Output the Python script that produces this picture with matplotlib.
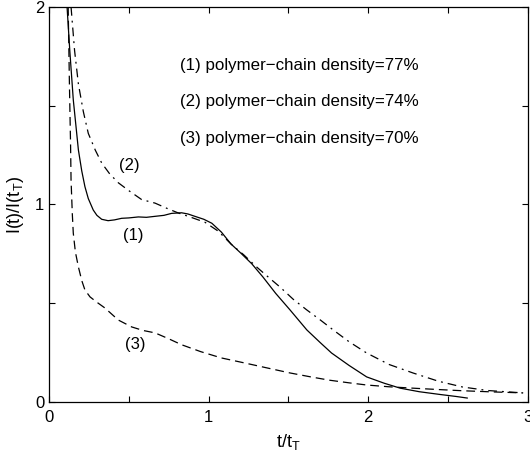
import matplotlib
matplotlib.use("Agg")
import matplotlib.pyplot as plt
from matplotlib.ticker import MultipleLocator

plt.rcParams['font.family'] = ['Liberation Sans', 'DejaVu Sans']

# curve (1): polymer-chain density 77%
t1 = [0.113, 0.13, 0.152, 0.184, 0.205, 0.225, 0.246, 0.277, 0.30, 0.33, 0.37,
      0.41, 0.455, 0.50, 0.56, 0.61, 0.664, 0.72, 0.768, 0.83, 0.87, 0.914,
      0.97, 1.02, 1.08, 1.14, 1.20, 1.27, 1.34, 1.42, 1.51, 1.615, 1.70, 1.77,
      1.88, 1.99, 2.1, 2.2, 2.32, 2.45, 2.55, 2.62]
i1 = [2.0, 1.78, 1.53, 1.276, 1.17, 1.09, 1.03, 0.972, 0.945, 0.925, 0.918,
      0.922, 0.93, 0.932, 0.937, 0.935, 0.94, 0.945, 0.955, 0.958, 0.952, 0.94,
      0.925, 0.905, 0.86, 0.80, 0.755, 0.70, 0.633, 0.55, 0.466, 0.365, 0.30,
      0.248, 0.185, 0.127, 0.095, 0.07, 0.052, 0.038, 0.028, 0.02]

# curve (2): polymer-chain density 74%
t2 = [0.138, 0.16, 0.184, 0.215, 0.246, 0.29, 0.33, 0.38, 0.434, 0.50, 0.58,
      0.664, 0.74, 0.81, 0.89, 0.977, 1.06, 1.14, 1.22, 1.30, 1.37, 1.45,
      1.53, 1.615, 1.70, 1.78, 1.88, 1.99, 2.13, 2.28, 2.44, 2.59, 2.75, 2.97]
i2 = [2.0, 1.78, 1.61, 1.47, 1.36, 1.275, 1.21, 1.155, 1.11, 1.07, 1.025,
      1.007, 0.98, 0.957, 0.935, 0.91, 0.865, 0.80, 0.745, 0.684, 0.635, 0.58,
      0.52, 0.466, 0.415, 0.365, 0.305, 0.248, 0.19, 0.147, 0.105, 0.076, 0.058,
      0.046]

# curve (3): polymer-chain density 70%
t3 = [0.12, 0.128, 0.135, 0.138, 0.146, 0.152, 0.165, 0.184, 0.205, 0.225,
      0.257, 0.30, 0.35, 0.434, 0.518, 0.59, 0.664, 0.75, 0.83, 0.95, 1.08,
      1.24, 1.38, 1.51, 1.64, 1.76, 1.88, 1.99, 2.13, 2.28, 2.44, 2.59, 2.78,
      2.97]
i3 = [2.0, 1.6, 1.3, 1.124, 0.95, 0.855, 0.76, 0.684, 0.615, 0.567,
      0.532, 0.505, 0.476, 0.415, 0.38, 0.362, 0.35, 0.32, 0.29, 0.255, 0.223,
      0.195, 0.17, 0.147, 0.127, 0.11, 0.097, 0.086, 0.077, 0.07, 0.063, 0.057,
      0.051, 0.046]

legend_lines = ["(1) polymer\u2212chain density=77%",
                "(2) polymer\u2212chain density=74%",
                "(3) polymer\u2212chain density=70%"]

fig = plt.figure(figsize=(5.3, 4.53), dpi=100)
ax = fig.add_axes([0.0925, 0.1126, 0.9035, 0.872])

ax.plot(t1, i1, color='black', lw=0.9, linestyle='-')
ax.plot(t2, i2, color='black', lw=0.9, linestyle=(0, (7, 4, 1.5, 4)))
ax.plot(t3, i3, color='black', lw=0.9, linestyle=(0, (7, 4)))

ax.text(0.50, 1.195, "(2)", fontsize=12, ha='center', va='center')
ax.text(0.526, 0.843, "(1)", fontsize=12, ha='center', va='center')
ax.text(0.54, 0.29, "(3)", fontsize=12, ha='center', va='center')
for k, s in enumerate(legend_lines):
    ax.text(0.82, 1.705 - 0.185 * k, s, fontsize=12.2, va='center')

ax.set_xlim(0, 3)
ax.set_ylim(0, 2)
ax.xaxis.set_major_locator(MultipleLocator(1))
ax.xaxis.set_minor_locator(MultipleLocator(0.5))
ax.yaxis.set_major_locator(MultipleLocator(1))
ax.yaxis.set_minor_locator(MultipleLocator(0.5))
ax.tick_params(which='both', direction='in', top=True, right=True,
               length=4, width=0.8, labelsize=12)
ax.tick_params(axis='x', pad=6)
for sp in ax.spines.values():
    sp.set_linewidth(0.9)

ax.set_xlabel("t/t$_\\mathregular{T}$", fontsize=13, labelpad=5)
ax.set_ylabel("I(t)/I(t$_\\mathregular{T}$)", fontsize=13, labelpad=6)

fig.savefig("out.png", dpi=100)
